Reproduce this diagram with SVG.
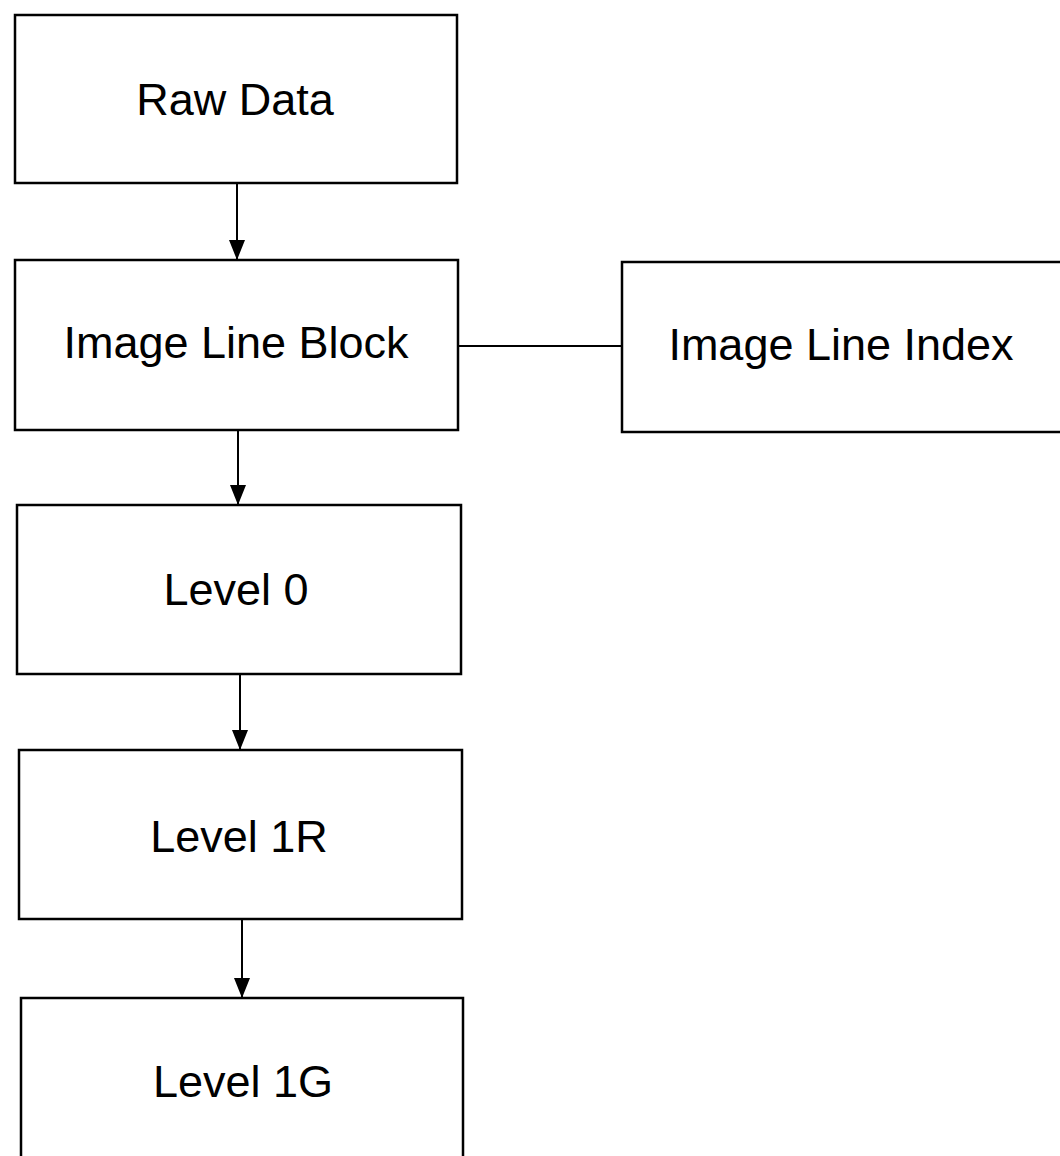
<svg xmlns="http://www.w3.org/2000/svg" width="1060" height="1156" viewBox="0 0 1060 1156">
<style>
.box{fill:#fff;stroke:#000;stroke-width:2.5}
.lbl{font-family:"Liberation Sans",Arial,sans-serif;font-size:45px;fill:#000;text-anchor:middle}
.conn{stroke:#000;stroke-width:2;fill:none}
</style>
<defs>
<marker id="ah" viewBox="0 0 20 16" refX="20" refY="8" markerWidth="20" markerHeight="16" markerUnits="userSpaceOnUse" orient="auto">
<path d="M0,0 L20,8 L0,16 Z" fill="#000"/>
</marker>
</defs>
<rect width="1060" height="1156" fill="#fff"/>
<g id="connectors">
<line class="conn" x1="237" y1="183" x2="237" y2="260" marker-end="url(#ah)"/>
<line class="conn" x1="238" y1="430" x2="238" y2="505" marker-end="url(#ah)"/>
<line class="conn" x1="240" y1="674" x2="240" y2="750" marker-end="url(#ah)"/>
<line class="conn" x1="242" y1="919" x2="242" y2="998" marker-end="url(#ah)"/>
<line class="conn" x1="458" y1="346" x2="622" y2="346"/>
</g>
<g id="raw-data">
<rect class="box" x="15" y="15" width="442" height="168"/>
<text class="lbl" x="235" y="115">Raw Data</text>
</g>
<g id="image-line-block">
<rect class="box" x="15" y="260" width="443" height="170"/>
<text class="lbl" x="236" y="358">Image Line Block</text>
</g>
<g id="image-line-index">
<rect class="box" x="622" y="262" width="440" height="170"/>
<text class="lbl" x="841" y="360">Image Line Index</text>
</g>
<g id="level-0">
<rect class="box" x="17" y="505" width="444" height="169"/>
<text class="lbl" x="236" y="605">Level 0</text>
</g>
<g id="level-1r">
<rect class="box" x="19" y="750" width="443" height="169"/>
<text class="lbl" x="239" y="852">Level 1R</text>
</g>
<g id="level-1g">
<rect class="box" x="21" y="998" width="442" height="170"/>
<text class="lbl" x="243" y="1097">Level 1G</text>
</g>
</svg>
